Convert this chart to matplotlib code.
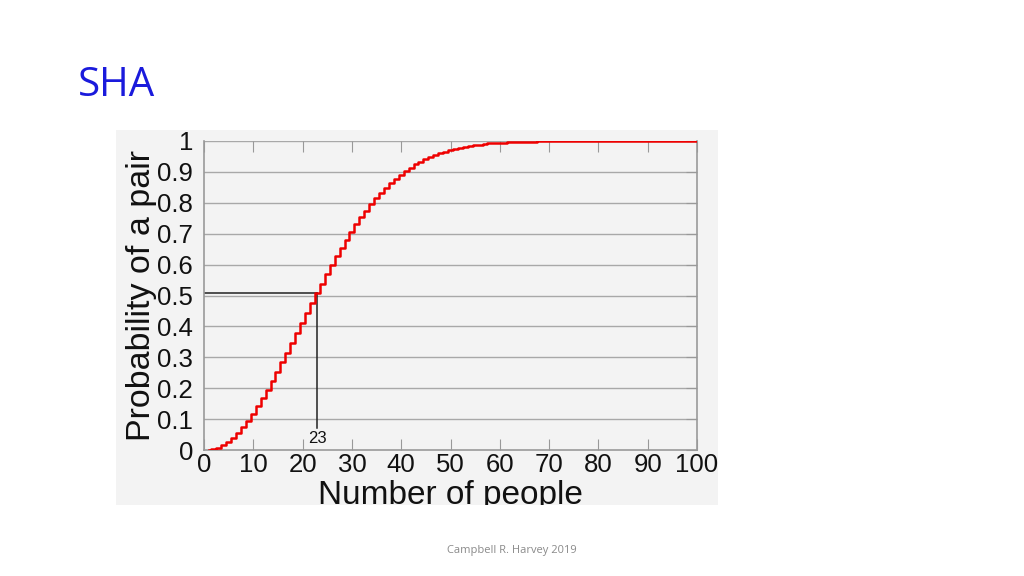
import matplotlib
matplotlib.use("Agg")
import matplotlib.pyplot as plt
from matplotlib.patches import Rectangle

people = list(range(1, 101))
prob = [0.000, 0.003, 0.008, 0.016, 0.027, 0.040, 0.056, 0.074, 0.095, 0.117,
        0.141, 0.167, 0.194, 0.223, 0.253, 0.284, 0.315, 0.347, 0.379, 0.411,
        0.444, 0.476, 0.507, 0.538, 0.569, 0.598, 0.627, 0.654, 0.681, 0.706,
        0.730, 0.753, 0.775, 0.795, 0.814, 0.832, 0.849, 0.864, 0.878, 0.891,
        0.903, 0.914, 0.924, 0.933, 0.941, 0.948, 0.955, 0.961, 0.966, 0.970,
        0.974, 0.978, 0.981, 0.984, 0.986, 0.988, 0.990, 0.992, 0.993, 0.994,
        0.995, 0.996, 0.997, 0.997, 0.998, 0.998, 0.998, 0.999, 0.999, 0.999,
        0.999, 0.999, 1.000, 1.000, 1.000, 1.000, 1.000, 1.000, 1.000, 1.000,
        1.000, 1.000, 1.000, 1.000, 1.000, 1.000, 1.000, 1.000, 1.000, 1.000,
        1.000, 1.000, 1.000, 1.000, 1.000, 1.000, 1.000, 1.000, 1.000, 1.000]
x_ticks = [0, 10, 20, 30, 40, 50, 60, 70, 80, 90, 100]
y_ticks = [0, 0.1, 0.2, 0.3, 0.4, 0.5, 0.6, 0.7, 0.8, 0.9, 1]
y_labels = ["0", "0.1", "0.2", "0.3", "0.4", "0.5", "0.6", "0.7", "0.8", "0.9", "1"]
marker_n = 23
marker_p = 0.507

fig = plt.figure(figsize=(10.24, 5.76), dpi=100)
fig.patch.set_facecolor("white")

# embedded image background
bg = Rectangle((116/1024, 1-505/576), (718-116)/1024, (505-130)/576,
               transform=fig.transFigure, facecolor="#f3f3f3",
               edgecolor="none", zorder=-10)
fig.patches.append(bg)

fig.text(78/1024, 1-86/576, "SHA", color="#1a1adc", fontsize=29,
         family="Open Sans", va="center", ha="left")
fig.text(512/1024, 1-550/576, "Campbell R. Harvey 2019", color="#8a8a8a",
         fontsize=8, family="Open Sans", ha="center", va="center")

ax = fig.add_axes([204/1024, 1-450/576, (697-204)/1024, (450-141)/576])
ax.set_zorder(5)
ax.set_facecolor("none")
ax.set_xlim(0, 100)
ax.set_ylim(0, 1)

for yv in y_ticks[1:]:
    ax.axhline(yv, color="#a8a8a8", lw=1.0, zorder=1)

ax.step(people, prob, where="mid", color="#ee0000", lw=1.8, zorder=3)

ax.plot([0, marker_n], [marker_p, marker_p], color="#222222", lw=1.1, zorder=2)
ax.plot([marker_n, marker_n], [0.07, marker_p], color="#222222", lw=1.1, zorder=2)
ax.text(marker_n, 0.037, str(marker_n), ha="center", va="center", fontsize=12,
        family="Liberation Sans", color="#111111")

for s in ax.spines.values():
    s.set_color("#999999")
    s.set_linewidth(1.2)
ax.spines["top"].set_visible(False)

ax.set_xticks(x_ticks)
ax.set_xticklabels([str(v) for v in x_ticks], fontsize=18.5, family="Liberation Sans")
ax.set_yticks(y_ticks)
ax.set_yticklabels(y_labels, fontsize=18.5, family="Liberation Sans")
ax.tick_params(axis="x", direction="in", top=True, length=8, color="#999999",
               pad=2, labelcolor="#111111")
ax.tick_params(axis="y", direction="in", left=False, right=True, length=8,
               color="#999999", pad=8, labelcolor="#111111")

xl = ax.set_xlabel("Number of people", fontsize=24, family="Liberation Sans",
                   labelpad=2, color="#111111")
xl.set_clip_path(bg)
xl.set_clip_on(True)
ax.set_ylabel("Probability of a pair", fontsize=24.5, family="Liberation Sans",
              labelpad=0, color="#111111")

fig.savefig("out.png", dpi=100, facecolor=fig.get_facecolor())
